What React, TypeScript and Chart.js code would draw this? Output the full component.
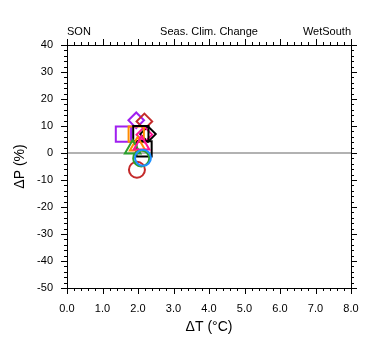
import React, { useEffect, useRef } from "react";
import { Chart, registerables } from "chart.js";

Chart.register(...registerables);

// ---- Data (ΔT in °C, ΔP in %) ----
const circleDT = [1.97, 2.09, 2.14];
const circleDP = [-6.2, -2.0, -1.8];
const circleColors = ["#c42a2a", "#2ca02c", "#1e90ff"];

const squareDT = [1.59, 1.95, 2.08, 2.17];
const squareDP = [7.0, 7.0, 7.2, 1.5];
const squareColors = ["#a020f0", "#ff8c00", "#000000", "#000000"];

const diamondDT = [1.95, 2.18, 2.28, 2.18];
const diamondDP = [12.1, 11.7, 7.0, 6.8];
const diamondColors = ["#a020f0", "#c42a2a", "#000000", "#ff1493"];

const triangleDT = [1.99, 1.85, 2.1];
const triangleDP = [2.6, 1.5, 3.0];
const triangleColors = ["#ff8c00", "#2ca02c", "#ff1493"];

const xTickLabels = ["0.0", "1.0", "2.0", "3.0", "4.0", "5.0", "6.0", "7.0", "8.0"];
const yTickValues = [-50, -40, -30, -20, -10, 0, 10, 20, 30, 40];

const leftText = "SON";
const centerText = "Seas. Clim. Change";
const rightText = "WetSouth";
const xTitle = "ΔT (°C)";
const yTitle = "ΔP (%)";

const FONT = '"Liberation Sans", Arial, Helvetica, sans-serif';

const toPts = (xs: number[], ys: number[]) => xs.map((x, i) => ({ x, y: ys[i] }));

const framePlugin = {
  id: "frame",
  beforeDatasetsDraw(chart: any) {
    const { ctx, chartArea } = chart;
    const ys = chart.scales.y;
    const y0 = ys.getPixelForValue(0);
    ctx.save();
    ctx.strokeStyle = "#999999";
    ctx.lineWidth = 1.5;
    ctx.beginPath();
    ctx.moveTo(chartArea.left, y0);
    ctx.lineTo(chartArea.right, y0);
    ctx.stroke();
    ctx.restore();
  },
  afterDraw(chart: any) {
    const { ctx, chartArea } = chart;
    const { left, right, top, bottom } = chartArea;
    const xs = chart.scales.x;
    const ys = chart.scales.y;
    ctx.save();
    ctx.strokeStyle = "#000";
    ctx.lineWidth = 1;
    ctx.strokeRect(Math.round(left) + 0.5, Math.round(top) + 0.5, Math.round(right - left), Math.round(bottom - top));
    ctx.beginPath();
    for (let i = 0; i <= 40; i++) {
      const v = i * 0.2;
      const px = Math.round(xs.getPixelForValue(v)) + 0.5;
      const len = i % 5 === 0 ? 6 : 3;
      ctx.moveTo(px, bottom);
      ctx.lineTo(px, bottom + len);
      ctx.moveTo(px, top);
      ctx.lineTo(px, top - len);
    }
    for (let i = 0; i <= 45; i++) {
      const v = -50 + i * 2;
      const py = Math.round(ys.getPixelForValue(v)) + 0.5;
      const len = i % 5 === 0 ? 6 : 3;
      ctx.moveTo(left, py);
      ctx.lineTo(left - len, py);
      ctx.moveTo(right, py);
      ctx.lineTo(right + len, py);
    }
    ctx.stroke();

    ctx.fillStyle = "#000";
    ctx.font = `11px ${FONT}`;
    ctx.textBaseline = "alphabetic";
    ctx.textAlign = "left";
    ctx.fillText(leftText, left, top - 10);
    ctx.textAlign = "center";
    ctx.fillText(centerText, (left + right) / 2, top - 10);
    ctx.textAlign = "right";
    ctx.fillText(rightText, right, top - 10);

    ctx.font = `14px ${FONT}`;
    ctx.textAlign = "center";
    ctx.textBaseline = "middle";
    ctx.fillText(xTitle, (left + right) / 2, 327);
    ctx.save();
    ctx.translate(20, (top + bottom) / 2);
    ctx.rotate(-Math.PI / 2);
    ctx.fillText(yTitle, 0, 0);
    ctx.restore();
    ctx.restore();
  },
};

export default function App() {
  const ref = useRef<HTMLCanvasElement | null>(null);
  useEffect(() => {
    if (!ref.current) return;
    const common = { backgroundColor: "rgba(0,0,0,0)", pointBackgroundColor: "rgba(0,0,0,0)", borderWidth: 2, pointBorderWidth: 2, showLine: false };
    const chart = new Chart(ref.current, {
      type: "scatter",
      data: {
        datasets: [
          { ...common, data: toPts(circleDT, circleDP), pointStyle: "circle", pointRadius: 8, pointBorderColor: circleColors, borderColor: circleColors },
          { ...common, data: toPts(triangleDT, triangleDP), pointStyle: "triangle", pointRadius: 9, pointBorderColor: triangleColors, borderColor: triangleColors },
          { ...common, data: toPts(squareDT, squareDP), pointStyle: "rect", pointRadius: 10.8, pointBorderColor: squareColors, borderColor: squareColors },
          { ...common, data: toPts(diamondDT, diamondDP), pointStyle: "rectRot", pointRadius: 7.8, pointBorderColor: diamondColors, borderColor: diamondColors },
        ],
      } as any,
      options: {
        animation: false,
        responsive: true,
        maintainAspectRatio: false,
        layout: { padding: { left: 0, top: 45, right: 29, bottom: 0 } },
        plugins: { legend: { display: false }, tooltip: { enabled: false }, title: { display: false } },
        scales: {
          x: {
            type: "linear",
            min: 0,
            max: 8,
            afterFit: (s: any) => { s.height = 67; },
            afterBuildTicks: (s: any) => { s.ticks = xTickLabels.map((t) => ({ value: parseFloat(t) })); },
            grid: { display: false, drawTicks: false },
            border: { display: false },
            ticks: {
              autoSkip: false,
              maxRotation: 0,
              padding: 14,
              color: "#000",
              font: { family: FONT, size: 11 },
              callback: (v: any) => Number(v).toFixed(1),
            },
          },
          y: {
            type: "linear",
            min: -50,
            max: 40,
            afterFit: (s: any) => { s.width = 67; },
            afterBuildTicks: (s: any) => { s.ticks = yTickValues.map((v) => ({ value: v })); },
            grid: { display: false, drawTicks: false },
            border: { display: false },
            ticks: {
              autoSkip: false,
              padding: 14,
              color: "#000",
              font: { family: FONT, size: 11 },
              callback: (v: any) => String(v),
            },
          },
        },
      } as any,
      plugins: [framePlugin],
    });
    return () => chart.destroy();
  }, []);
  return (
    <div style={{ position: "fixed", left: 0, top: 0, width: 380, height: 355, background: "#fff" }}>
      <canvas ref={ref} />
    </div>
  );
}
